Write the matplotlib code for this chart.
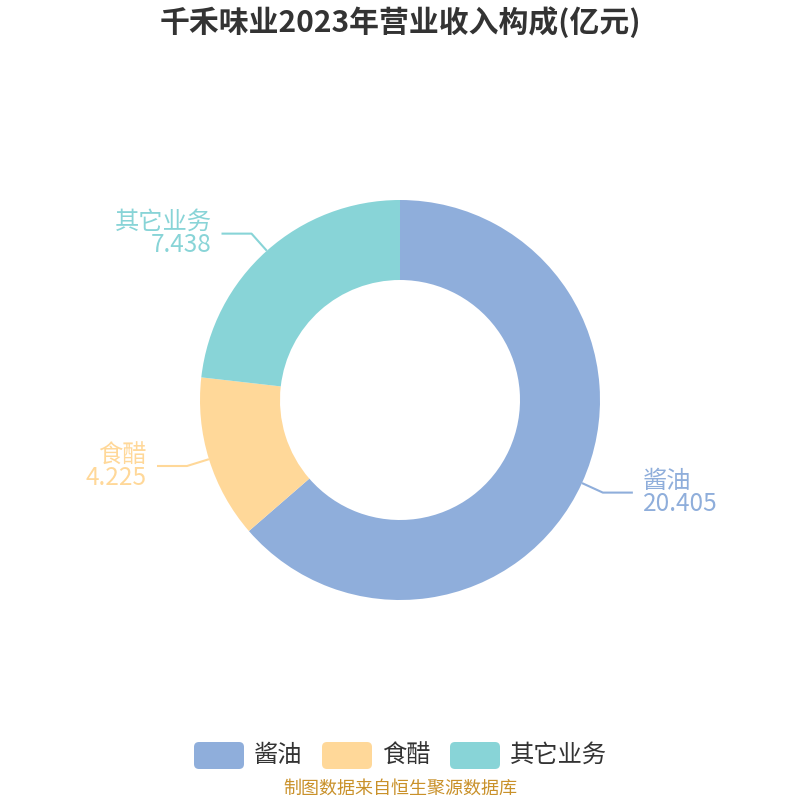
import numpy as np
import matplotlib
matplotlib.use("Agg")
import matplotlib.pyplot as plt
from matplotlib.patches import FancyBboxPatch

plt.rcParams['font.family'] = ['Noto Sans CJK SC', 'DejaVu Sans']

# data
categories = ["酱油", "食醋", "其它业务"]
values = [20.405, 4.225, 7.438]
colors = ["#8FAEDB", "#FFD899", "#88D4D7"]
title = "千禾味业2023年营业收入构成(亿元)"
source = "制图数据来自恒生聚源数据库"

W, H = 800, 800
fig = plt.figure(figsize=(8, 8), dpi=100)
ax = fig.add_axes([0, 0, 1, 1])

cx, cy, R, r_in = 400, 400, 200, 120
wedges, _ = ax.pie(values, colors=colors, startangle=90, counterclock=False,
                   radius=R, center=(cx, cy),
                   wedgeprops=dict(width=R - r_in, linewidth=0))
ax.set_xlim(0, W)
ax.set_ylim(0, H)
ax.set_aspect("equal")
ax.axis("off")

# labels with leader lines (name + value as one two-line text)
for w, cat, val, col in zip(wedges, categories, values, colors):
    ang = np.deg2rad((w.theta1 + w.theta2) / 2)
    x0 = cx + R * np.cos(ang)
    y0 = cy + R * np.sin(ang)
    x1 = cx + (R + 23) * np.cos(ang)
    y1 = cy + (R + 23) * np.sin(ang)
    side = 1 if np.cos(ang) >= 0 else -1
    x2 = x1 + side * 30
    ax.plot([x0, x1, x2], [y0, y1, y1], color=col, lw=1.5, solid_capstyle="butt")
    ha = "left" if side > 0 else "right"
    tx = x2 + side * 10
    ax.text(tx, y1, f"{cat}\n{val:.3f}", color=col, fontsize=17.5, ha=ha,
            va="center", multialignment=ha, linespacing=0.86)

# title
ax.text(W / 2, H - 22, title, fontsize=21.5, fontweight="bold", color="#333333",
        ha="center", va="center")

# legend
lx = [194, 322, 450]
for x, cat, col in zip(lx, categories, colors):
    box = FancyBboxPatch((x, H - 769), 50, 27, boxstyle="round,pad=0,rounding_size=5",
                         facecolor=col, edgecolor="none")
    ax.add_patch(box)
    ax.text(x + 60, H - 755, cat, fontsize=17.5, color="#333333", ha="left", va="center")

# source
ax.text(W / 2, H - 789, source, fontsize=13, color="#C9912A", ha="center", va="center")

fig.savefig("out.png", dpi=100)
